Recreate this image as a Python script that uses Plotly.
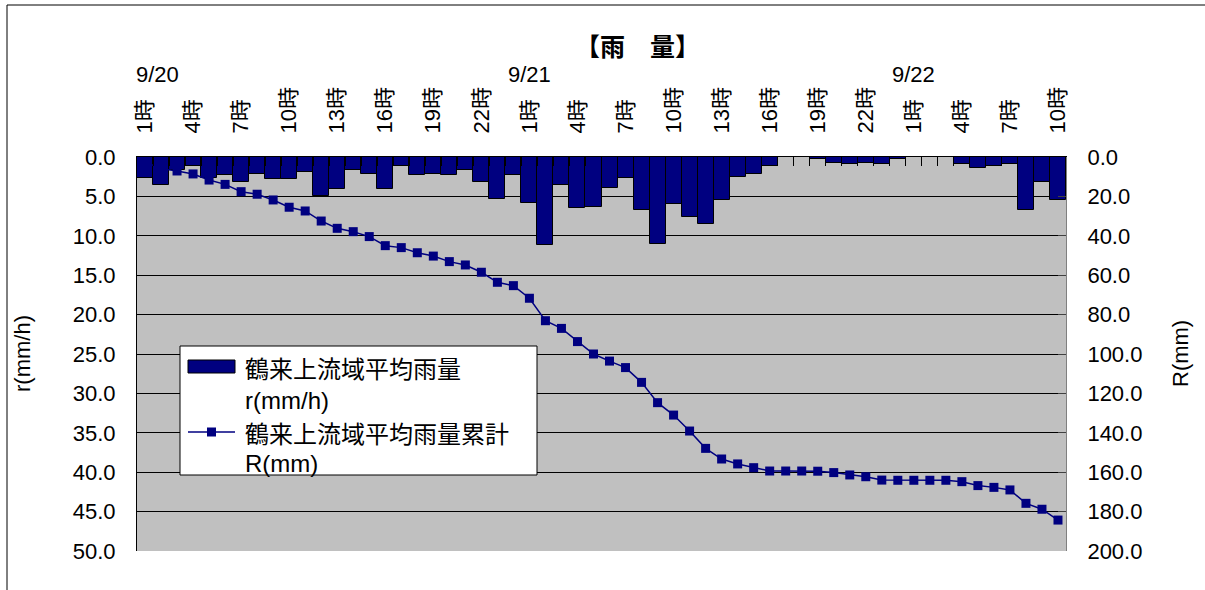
import plotly.graph_objects as go

# ---- data ----
day_names = ["9/20", "9/21", "9/22"]
hours_per_day = [24, 24, 10]

# hourly basin-average rainfall r (mm/h)
rain = [2.7, 3.6, 1.6, 1.2, 2.7, 2.3, 3.2, 2.1, 2.8, 2.8, 1.9, 5.0,
        4.1, 1.7, 2.1, 4.1, 1.2, 2.3, 2.1, 2.3, 1.7, 3.2, 5.3, 2.3,
        5.8, 11.2, 3.6, 6.5, 6.3, 3.9, 2.7, 6.7, 11.0, 6.0, 7.6, 8.5,
        5.4, 2.5, 2.1, 1.1, 0.0, 0.0, 0.2, 0.7, 0.9, 0.7, 0.9, 0.2,
        0.0, 0.0, 0.0, 0.9, 1.4, 1.2, 0.9, 6.7, 3.2, 5.4]

# cumulative rainfall R (mm)
cum = [2.5, 5.9, 7.1, 8.6, 11.7, 13.9, 17.6, 18.9, 21.8, 25.5, 27.4, 32.5,
       36.2, 37.9, 40.4, 45.0, 46.0, 48.6, 50.3, 53.1, 54.8, 58.5, 63.6, 65.3,
       71.7, 83.1, 87.0, 93.7, 100.0, 103.6, 106.9, 114.4, 124.7, 131.0, 139.1, 147.9,
       153.3, 155.8, 157.7, 159.4, 159.4, 159.4, 159.5, 160.2, 161.4, 162.3, 164.0, 164.1,
       164.1, 164.1, 164.1, 164.8, 166.8, 167.7, 169.0, 175.8, 178.8, 184.3]

categories = []
tick_text = []
for d, n in zip(day_names, hours_per_day):
    for h in range(1, n + 1):
        categories.append(f"{d} {h}時")
        tick_text.append(f"{h}時" if (h - 1) % 3 == 0 else "")

NAVY = "#000080"
FONT = "Liberation Sans, Arial, Noto Sans CJK JP, sans-serif"
CJK = "Noto Sans CJK JP, Liberation Sans, sans-serif"

fig = go.Figure()
fig.add_trace(go.Bar(
    x=categories, y=rain, name="鶴来上流域平均雨量 r(mm/h)",
    marker=dict(color=NAVY, line=dict(color="black", width=1)),
    yaxis="y", showlegend=False))
fig.add_trace(go.Scatter(
    x=categories, y=cum, name="鶴来上流域平均雨量累計 R(mm)",
    mode="lines+markers", line=dict(color=NAVY, width=1.5),
    marker=dict(symbol="square", size=9, color=NAVY),
    yaxis="y2", showlegend=False))

# plot-area pixel geometry helpers (for decorations only)
L, R_, T, B = 137, 1066, 157, 551
def px(x):
    return (x - L) / (R_ - L)
def py(y):
    return (B - y) / (B - T)

fig.update_layout(
    width=1205, height=590,
    margin=dict(l=L, r=1205 - R_, t=T, b=590 - B, autoexpand=False),
    paper_bgcolor="white", plot_bgcolor="#C0C0C0",
    bargap=0,
    font=dict(family=FONT, size=22, color="black"),
    xaxis=dict(
        type="category", side="top", categoryorder="array", categoryarray=categories,
        range=[-0.5, len(categories) - 0.5], autorange=False,
        tickmode="array", tickvals=categories, ticktext=tick_text,
        tickangle=-90, ticks="inside", tickson="boundaries", ticklen=9,
        tickcolor="black", tickwidth=1, ticklabelstandoff=18,
        showline=True, linecolor="black", linewidth=1, showgrid=False,
        tickfont=dict(family=FONT, size=22), fixedrange=True),
    yaxis=dict(
        range=[50, 0], dtick=5, tick0=0, tickformat=".1f",
        showgrid=True, gridcolor="#000000", gridwidth=1, zeroline=False,
        showline=True, linecolor="black", linewidth=1,
        ticks="inside", ticklen=8, tickcolor="black", ticklabelstandoff=16,
        tickfont=dict(family=FONT, size=22)),
    yaxis2=dict(
        range=[200, 0], dtick=20, tick0=0, tickformat=".1f",
        overlaying="y", side="right", showgrid=False, zeroline=False,
        showline=True, linecolor="#808080", linewidth=1,
        ticks="inside", ticklen=8, tickcolor="#404040", ticklabelstandoff=16,
        tickfont=dict(family=FONT, size=22)),
)

annotations = [
    dict(text="<b>【雨　量】</b>", x=px(637), y=py(45), xref="paper", yref="paper",
         showarrow=False, font=dict(family=CJK, size=25), xanchor="center", yanchor="middle"),
    dict(text="r(mm/h)", x=px(22), y=0.5, xref="paper", yref="paper", textangle=-90,
         showarrow=False, font=dict(family=FONT, size=22), xanchor="center", yanchor="middle"),
    dict(text="R(mm)", x=px(1180), y=0.5, xref="paper", yref="paper", textangle=-90,
         showarrow=False, font=dict(family=FONT, size=22), xanchor="center", yanchor="middle"),
]
for d, xs in zip(day_names, [12, 0, 0]):
    annotations.append(dict(text=d, x=f"{d} 1時", y=py(75), xref="x", yref="paper",
                            xshift=xs, showarrow=False, font=dict(family=FONT, size=22),
                            xanchor="center", yanchor="middle"))

# legend (drawn manually)
leg_x = px(243)
for txt, yy in [("鶴来上流域平均雨量", 367), ("r(mm/h)", 400),
                ("鶴来上流域平均雨量累計", 432), ("R(mm)", 463)]:
    annotations.append(dict(text=txt, x=leg_x, y=py(yy), xref="paper", yref="paper",
                            showarrow=False, xanchor="left", yanchor="middle",
                            font=dict(family=CJK if "鶴" in txt else FONT, size=24)))
fig.update_layout(annotations=annotations)

shapes = [
    # outer chart border
    dict(type="rect", xref="paper", yref="paper", x0=px(7), x1=px(1215), y0=py(600), y1=py(5),
         line=dict(color="black", width=1), fillcolor="rgba(0,0,0,0)", layer="below"),
    # legend box
    dict(type="rect", xref="paper", yref="paper", x0=px(180), x1=px(537), y0=py(475), y1=py(346),
         line=dict(color="black", width=1), fillcolor="white", layer="above"),
    # bar symbol
    dict(type="rect", xref="paper", yref="paper", x0=px(188), x1=px(235), y0=py(373), y1=py(360),
         line=dict(color="black", width=1), fillcolor=NAVY, layer="above"),
    # line symbol
    dict(type="line", xref="paper", yref="paper", x0=px(188), x1=px(235), y0=py(432), y1=py(432),
         line=dict(color=NAVY, width=1.5), layer="above"),
    dict(type="rect", xref="paper", yref="paper", x0=px(207), x1=px(216), y0=py(436.5), y1=py(427.5),
         line=dict(color=NAVY, width=0), fillcolor=NAVY, layer="above"),
]
fig.update_layout(shapes=shapes)

fig.write_html("out.html", config={"displayModeBar": False},
               post_script="document.body.style.margin='0px';document.body.style.overflow='hidden';")
